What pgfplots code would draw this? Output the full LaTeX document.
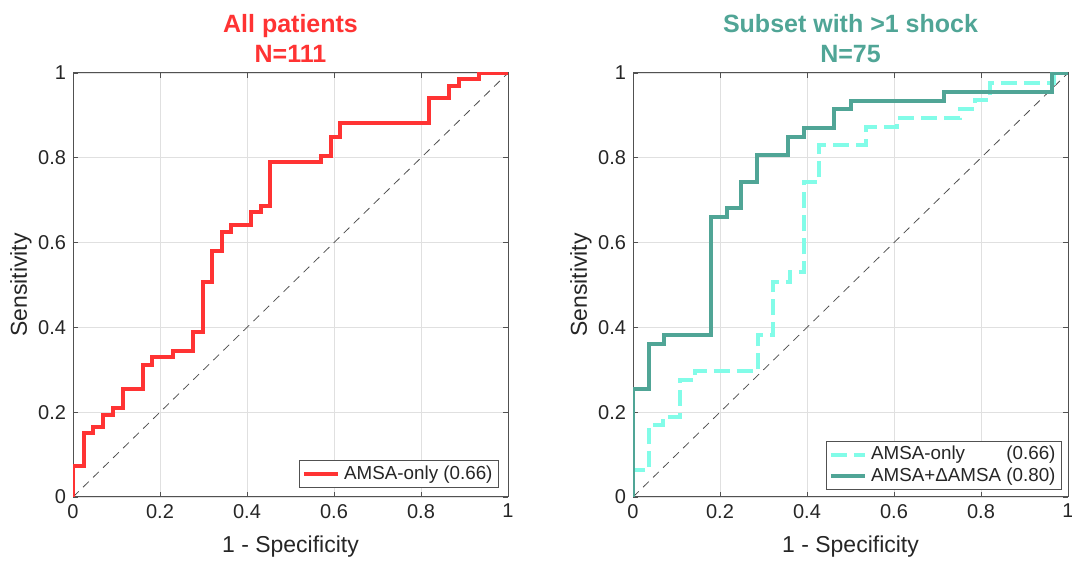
\documentclass[border=0pt]{standalone}
\usepackage{pgfplots}
\pgfplotsset{compat=1.18}
\usepackage{fontspec}
\setmainfont{Liberation Sans}
\usepackage{calc}
\definecolor{myred}{RGB}{255,51,51}
\definecolor{myteal}{RGB}{80,165,150}
\definecolor{mycyan}{RGB}{130,252,232}
\definecolor{axgray}{RGB}{38,38,38}
\pgfplotsset{
 rocstyle/.style={
  scale only axis, width=217.5pt, height=212pt,
  anchor=south west,
  xmin=0,xmax=1,ymin=0,ymax=1,
  xtick={0,0.2,0.4,0.6,0.8,1}, ytick={0,0.2,0.4,0.6,0.8,1},
  grid=major, major grid style={black!12, line width=0.4pt},
  axis line style={axgray!80, line width=0.5pt},
  tick style={axgray!80, line width=0.4pt}, major tick length=2.5pt,
  tick label style={font=\fontsize{10}{11}\selectfont, text=axgray},
  /pgf/number format/assume math mode=true,
  label style={font=\fontsize{11.5}{13}\selectfont, text=axgray},
  xlabel={1 - Specificity}, ylabel={Sensitivity},
  xlabel style={at={(axis description cs:0.5,0)}, anchor=center, yshift=-25pt},
  ylabel style={at={(axis description cs:0,0.5)}, anchor=center, yshift=26pt},
  legend style={font=\fontsize{9.4}{11}\selectfont, draw=axgray!80, line width=0.5pt,
    inner xsep=1pt, inner ysep=0.5pt, row sep=-1.5pt, text=axgray},
  legend cell align=left,
  title style={at={(0.5,1)}, anchor=south, align=center, font=\bfseries\fontsize{12.5}{15}\selectfont, yshift=-4.3pt},
 }
}
\begin{document}
\begin{tikzpicture}
\useasboundingbox (0,0) rectangle (536pt,281pt);
\begin{axis}[rocstyle, at={(36.5pt,32.5pt)},
  title={All patients\\N=111}, title style={text=myred},
  legend style={at={(1,0)}, anchor=south east, xshift=-4.5pt, yshift=4.5pt}]
\addplot[forget plot, black!70, line width=0.4pt, dash pattern=on 4pt off 3pt] coordinates {(0,0) (1,1)};
\addplot[myred, line width=2pt, line join=miter] coordinates {
(0,0) (0,0.073) (0.025,0.073) (0.025,0.150) (0.047,0.150) (0.047,0.166)
(0.070,0.166) (0.070,0.193) (0.093,0.193) (0.093,0.211) (0.114,0.211) (0.114,0.254)
(0.160,0.254) (0.160,0.312) (0.182,0.312) (0.182,0.329) (0.229,0.329) (0.229,0.344)
(0.275,0.344) (0.275,0.388) (0.298,0.388) (0.298,0.508) (0.320,0.508) (0.320,0.581)
(0.343,0.581) (0.343,0.626) (0.364,0.626) (0.364,0.641) (0.409,0.641) (0.409,0.671)
(0.432,0.671) (0.432,0.686) (0.454,0.686) (0.454,0.791) (0.569,0.791) (0.569,0.805)
(0.592,0.805) (0.592,0.850) (0.614,0.850) (0.614,0.881) (0.818,0.881) (0.818,0.940)
(0.864,0.940) (0.864,0.969) (0.887,0.969) (0.887,0.985) (0.933,0.985) (0.933,1) (1,1)};
\addlegendentry{AMSA-only (0.66)}
\end{axis}
\begin{axis}[rocstyle, at={(316.5pt,32.5pt)},
  title={Subset with >1 shock\\N=75}, title style={text=myteal},
  legend style={at={(1,0)}, anchor=south east, xshift=-3pt, yshift=3.5pt}]
\addplot[forget plot, black!70, line width=0.4pt, dash pattern=on 4pt off 3pt] coordinates {(0,0) (1,1)};
\addplot[mycyan, line width=2pt, dash pattern=on 8pt off 3.5pt] coordinates {
(0,0) (0,0.064) (0.037,0.064) (0.037,0.170) (0.069,0.170) (0.069,0.189)
(0.107,0.189) (0.107,0.276) (0.142,0.276) (0.142,0.298) (0.288,0.298) (0.288,0.382)
(0.322,0.382) (0.322,0.508) (0.361,0.508) (0.361,0.531) (0.394,0.531) (0.394,0.744)
(0.428,0.744) (0.428,0.830) (0.536,0.830) (0.536,0.873) (0.606,0.873) (0.606,0.893)
(0.752,0.893) (0.752,0.914) (0.786,0.914) (0.786,0.936) (0.821,0.936) (0.821,0.977)
(0.967,0.977) (0.967,1) (1,1)};
\addlegendentry{\makebox[\widthof{AMSA+ΔAMSA (0.80)}][l]{AMSA-only\hfill(0.66)}}
\addplot[myteal, line width=2pt, line join=miter] coordinates {
(0,0) (0,0.254) (0.037,0.254) (0.037,0.361) (0.071,0.361) (0.071,0.381)
(0.180,0.381) (0.180,0.660) (0.215,0.660) (0.215,0.681) (0.249,0.681) (0.249,0.744)
(0.285,0.744) (0.285,0.807) (0.357,0.807) (0.357,0.850) (0.393,0.850) (0.393,0.871)
(0.463,0.871) (0.463,0.914) (0.500,0.914) (0.500,0.935) (0.715,0.935) (0.715,0.956)
(0.964,0.956) (0.964,1) (1,1)};
\addlegendentry{AMSA+ΔAMSA (0.80)}
\end{axis}
\end{tikzpicture}
\end{document}
